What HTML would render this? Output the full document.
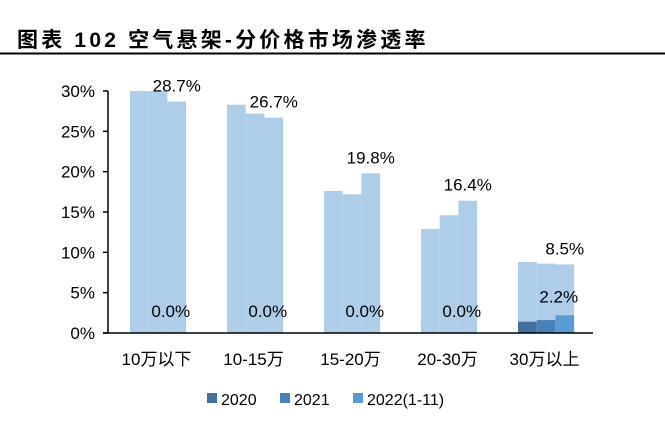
<!DOCTYPE html>
<html><head><meta charset="utf-8"><style>
body{margin:0;background:#fff;width:665px;height:429px;overflow:hidden;font-family:"Liberation Sans","Noto Sans CJK SC",sans-serif;}
</style></head><body>
<svg width="665" height="429" viewBox="0 0 665 429" xmlns="http://www.w3.org/2000/svg">
<text x="17" y="47" font-size="21" font-weight="bold" letter-spacing="3.2" fill="#000" font-family="Liberation Sans,Noto Sans CJK SC,sans-serif">图表 102 空气悬架-分价格市场渗透率</text>
<line x1="0" y1="53.5" x2="665" y2="53.5" stroke="#000" stroke-width="2"/>
<g id="plot"></g>
</svg>
<script>
const categories=["10万以下","10-15万","15-20万","20-30万","30万以上"];
const total2020=[30.0,28.3,17.6,12.9,8.8];
const total2021=[30.0,27.2,17.2,14.6,8.6];
const total2022=[28.7,26.7,19.8,16.4,8.5];
const high2020=[0,0,0,0,1.4];
const high2021=[0,0,0,0,1.6];
const high2022=[0,0,0,0,2.2];
const yTicks=[0,5,10,15,20,25,30];
const legendLabels=["2020","2021","2022(1-11)"];
const NS="http://www.w3.org/2000/svg";
const g=document.getElementById('plot');
const x0=108,x1=593,y0=333,yTop=91,yMax=30;
const bandW=(x1-x0)/categories.length;
const barW=18.7;
const FS=17;
function y(v){return y0-(Math.min(v,yMax)/yMax)*(y0-yTop);}
function bx(ci,si){return x0+ci*bandW+22+si*barW;}
function mk(t,a){const e=document.createElementNS(NS,t);for(const k in a)e.setAttribute(k,a[k]);g.appendChild(e);return e;}
const totals=[total2020,total2021,total2022];
const highs=[high2020,high2021,high2022];
const darkC=["#41719c","#4a80b8","#5b9bd5"];
categories.forEach((c,ci)=>{
  for(let si=0;si<3;si++){
    const r=mk('rect',{x:bx(ci,si),y:y(totals[si][ci]),width:barW,height:y0-y(totals[si][ci]),fill:"#aecde9"});
    
    
    if(highs[si][ci]>0){
      const d=mk('rect',{x:bx(ci,si),y:y(highs[si][ci]),width:barW,height:y0-y(highs[si][ci]),fill:darkC[si]});
      
      
    }
  }
  const cx=bx(ci,2)+barW/2;
  const t1=mk('text',{x:cx,y:y(totals[2][ci])-10,'font-size':FS,'text-anchor':'middle',fill:'#000'});
  t1.textContent=totals[2][ci].toFixed(1)+'%';
  
  
  const hv=highs[2][ci];
  const t2=mk('text',{x:cx-6,y:hv>0?y(hv)-13:317,'font-size':FS,'text-anchor':'middle',fill:'#000'});
  t2.textContent=hv.toFixed(1)+'%';
  
  
  const cl=mk('text',{x:x0+ci*bandW+bandW/2,y:365,'font-size':FS,'text-anchor':'middle',fill:'#000'});
  cl.textContent=c;
  
  
});
const ax=mk('line',{x1:x0,y1:yTop,x2:x0,y2:y0,stroke:'#000','stroke-width':1.5});


const bx2=mk('line',{x1:x0-5,y1:y0,x2:x1,y2:y0,stroke:'#000','stroke-width':1.5});


yTicks.forEach(v=>{
  const tk=mk('line',{x1:x0-5,y1:y(v),x2:x0,y2:y(v),stroke:'#000','stroke-width':1.5});
  
  
  const tl=mk('text',{x:x0-13,y:y(v)+6,'font-size':FS,'text-anchor':'end',fill:'#000'});
  tl.textContent=v+'%';
  
  
});
const lx=[207,280,353];
legendLabels.forEach((l,i)=>{
  const s=mk('rect',{x:lx[i],y:393,width:10,height:10,fill:darkC[i]});
  
  
  const t=mk('text',{x:lx[i]+14,y:405,'font-size':16,fill:'#000'});
  t.textContent=l;
  
  
});
</script>
</body></html>
